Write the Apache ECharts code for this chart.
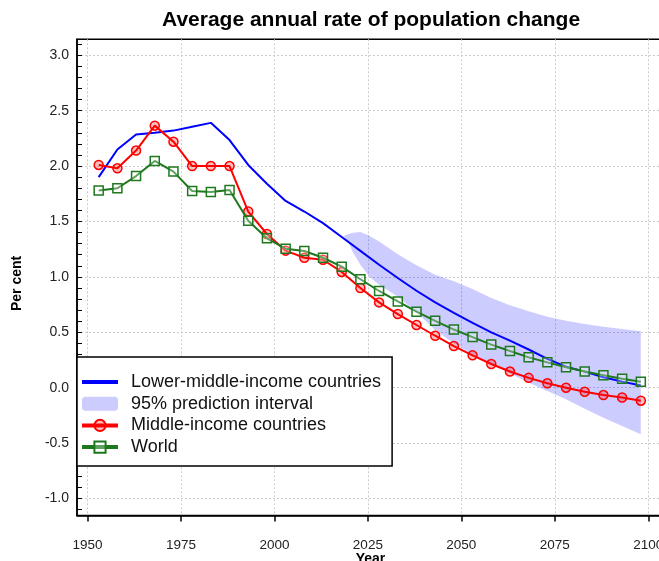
<!DOCTYPE html>
<html>
<head>
<meta charset="utf-8">
<script src="https://cdn.jsdelivr.net/npm/echarts@6/dist/echarts.min.js"></script>
<style>
html,body{margin:0;padding:0;background:#fff;}
#c{width:659px;height:561px;}
</style>
</head>
<body>
<div id="c"></div>
<script>
const years = [1953,1958,1963,1968,1973,1978,1983,1988,1993,1998,2003,2008,2013,2018,2023,2028,2033,2038,2043,2048,2053,2058,2063,2068,2073,2078,2083,2088,2093,2098];
const lowerMiddleIncome = [1.90,2.15,2.285,2.30,2.32,2.355,2.39,2.235,2.01,1.84,1.685,1.59,1.485,1.36,1.235,1.11,0.99,0.875,0.77,0.675,0.585,0.50,0.425,0.345,0.26,0.19,0.145,0.095,0.055,0.02];
const middleIncome = [2.01,1.98,2.14,2.365,2.22,2.00,2.00,2.00,1.59,1.387,1.237,1.173,1.155,1.045,0.90,0.77,0.665,0.566,0.469,0.376,0.292,0.214,0.146,0.089,0.04,0.0,-0.037,-0.066,-0.088,-0.117];
const world = [1.78,1.80,1.91,2.046,1.95,1.775,1.766,1.784,1.507,1.348,1.255,1.234,1.173,1.092,0.979,0.873,0.779,0.686,0.604,0.525,0.457,0.389,0.331,0.274,0.229,0.184,0.146,0.113,0.081,0.054];

const bandYears = [2018.5,2020,2021,2023,2025.5,2028,2033,2038,2043,2048,2053,2058,2063,2068,2073,2078,2083,2088,2093,2098];
const bandUpper = [1.37,1.39,1.398,1.405,1.37,1.32,1.205,1.105,1.02,0.96,0.89,0.81,0.745,0.69,0.64,0.605,0.575,0.55,0.53,0.51];
const bandLower = [1.37,1.30,1.22,1.11,1.00,0.93,0.82,0.68,0.52,0.40,0.30,0.215,0.13,0.045,-0.03,-0.105,-0.19,-0.27,-0.345,-0.42];

const xTicks = [1950,1975,2000,2025,2050,2075,2100];
const yTicks = [-1.0,-0.5,0.0,0.5,1.0,1.5,2.0,2.5,3.0];
const yMinorTicks = [-1.1,-1.0,-0.9,-0.8,-0.7,-0.6,-0.5,-0.4,-0.3,-0.2,-0.1,0.0,0.1,0.2,0.3,0.4,0.5,0.6,0.7,0.8,0.9,1.0,1.1,1.2,1.3,1.4,1.5,1.6,1.7,1.8,1.9,2.0,2.1,2.2,2.3,2.4,2.5,2.6,2.7,2.8,2.9,3.0,3.1];

const FONT = '"Liberation Sans", Arial, Helvetica, sans-serif';
const gridLine = {show:true, lineStyle:{color:'#cccccc', type:[2,2], width:1}};
const YMIN = -1.153, YMAX = 3.144;
const BAND_COLOR = 'rgba(0,0,255,0.2)';

const chart = echarts.init(document.getElementById('c'), null, {renderer:'canvas'});
chart.setOption({
  animation:false,
  backgroundColor:'#fff',
  textStyle:{fontFamily:FONT},
  title:{
    text:'Average annual rate of population change',
    left:162, top:10, padding:0,
    textStyle:{fontSize:21, fontWeight:'bold', color:'#000', fontFamily:FONT}
  },
  grid:{left:77, top:39.3, right:-5, bottom:45.5, show:true, borderColor:'#000', borderWidth:1.5, backgroundColor:'transparent', outerBoundsMode:'none'},
  legend:{
    orient:'vertical', left:77, top:357,
    data:[
      {name:'Lower-middle-income countries', icon:'path://M0,0h36v4h-36z', itemStyle:{color:'#0000ff'}},
      {name:'95% prediction interval', icon:'roundRect', itemStyle:{color:BAND_COLOR}},
      {name:'Middle-income countries'},
      {name:'World'}
    ],
    symbolKeepAspect:true,
    backgroundColor:'#fff', borderColor:'#000', borderWidth:1.5, borderRadius:0,
    padding:[16,11,10,3],
    itemWidth:36, itemHeight:14, itemGap:3.7,
    lineStyle:{width:4},
    textStyle:{fontSize:18, color:'#111', fontFamily:FONT, padding:[0,0,0,8]},
    selectedMode:false
  },
  xAxis:{
    type:'value', min:1947.2, max:2104.2,
    name:'Year', nameLocation:'middle', nameGap:37, nameMoveOverlap:false,
    nameTextStyle:{fontWeight:'bold', fontSize:14, color:'#000', fontFamily:FONT},
    axisLine:{show:true, onZero:false, lineStyle:{color:'#000', width:1.5}},
    axisTick:{show:true, customValues:xTicks, inside:false, length:6, lineStyle:{color:'#000', width:1.5}},
    axisLabel:{customValues:xTicks, margin:23, fontSize:13.5, color:'#222', fontFamily:FONT, formatter:v=>String(v)},
    splitLine:gridLine
  },
  yAxis:[
    {
      type:'value', min:YMIN, max:YMAX, position:'left',
      name:'Per cent', nameLocation:'middle', nameGap:53, nameRotate:90, nameMoveOverlap:false,
      nameTextStyle:{fontWeight:'bold', fontSize:14, color:'#000', fontFamily:FONT, padding:[0,12,0,0]},
      axisLine:{show:true, onZero:false, lineStyle:{color:'#000', width:1.5}},
      axisTick:{show:true, customValues:yMinorTicks, inside:true, length:5, lineStyle:{color:'#000', width:1}},
      axisLabel:{customValues:yTicks, margin:8, fontSize:14, color:'#222', fontFamily:FONT, formatter:v=>v.toFixed(1)},
      splitLine:{show:false}
    },
    {
      type:'value', min:YMIN, max:YMAX, position:'left',
      axisLine:{show:false},
      axisTick:{show:false, customValues:yTicks},
      axisLabel:{show:false, customValues:yTicks},
      splitLine:gridLine
    }
  ],
  series:[
    {
      name:'95% prediction interval', type:'custom',
      data:bandYears.map((y,i)=>[y,bandLower[i],bandUpper[i]]),
      encode:{x:0, y:[1,2]},
      itemStyle:{color:BAND_COLOR},
      silent:true, z:1,
      renderItem:function(params, api){
        if (params.dataIndex !== 0) return null;
        const pts = [];
        for (let i = 0; i < bandYears.length; i++) pts.push(api.coord([bandYears[i], bandUpper[i]]));
        for (let i = bandYears.length - 1; i >= 0; i--) pts.push(api.coord([bandYears[i], bandLower[i]]));
        return {type:'polygon', shape:{points:pts}, style:{fill:BAND_COLOR, stroke:null}};
      }
    },
    {
      name:'Lower-middle-income countries', type:'line',
      data:years.map((y,i)=>[y,lowerMiddleIncome[i]]),
      symbol:'none', lineStyle:{color:'#0000ff', width:2}, itemStyle:{color:'#0000ff'}, z:2
    },
    {
      name:'Middle-income countries', type:'line',
      data:years.map((y,i)=>[y,middleIncome[i]]),
      symbol:'circle', symbolSize:9,
      lineStyle:{color:'#ff0000', width:2},
      itemStyle:{color:'rgba(255,0,0,0.25)', borderColor:'#ff0000', borderWidth:1.5}, z:3
    },
    {
      name:'World', type:'line',
      data:years.map((y,i)=>[y,world[i]]),
      symbol:'rect', symbolSize:9,
      lineStyle:{color:'#1e781e', width:2},
      itemStyle:{color:'rgba(255,255,255,0.3)', borderColor:'#1e781e', borderWidth:1.5}, z:4
    }
  ]
});
</script>
</body>
</html>
